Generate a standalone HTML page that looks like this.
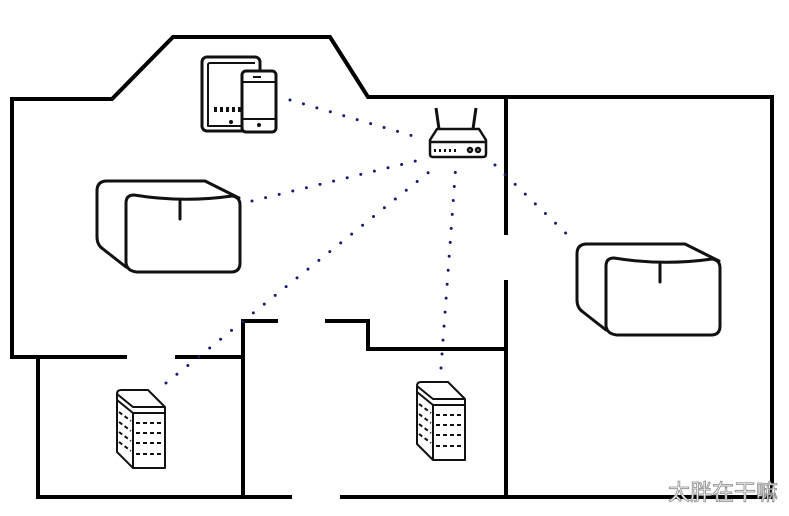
<!DOCTYPE html>
<html><head><meta charset="utf-8"><style>
html,body{margin:0;padding:0;background:#fff;}
svg{display:block;}
</style></head><body>
<svg width="789" height="516" viewBox="0 0 789 516" xmlns="http://www.w3.org/2000/svg">
<defs>
<g id="spk" fill="none" stroke="#111" stroke-width="3" stroke-linejoin="round" stroke-linecap="round">
  <path d="M29,86 L6,68 Q0,64 0,56 L0,10 Q0,0 10,0 L108,0 L142,17"/>
  <path d="M37,14 Q29,14 29,22 L29,82 Q30,90 40,91 L134,91 Q143,91 143,82 L143,24 Q143,16 135,15 Q86,22 37,14 Z"/>
  <path d="M83,20 L83,38"/>
</g>
<g id="tow" fill="none" stroke="#111" stroke-width="2" stroke-linejoin="round">
  <path d="M1,4 Q1,0 5,0 L32,0 L49,17 L49,78 L17,78 L1,62 Z"/>
  <path d="M1,4 L17,17 L49,17"/>
  <path d="M1,10 L17,23 L49,23"/>
  <path d="M17,23 L17,78"/>
  <g stroke-dasharray="4,3">
    <path d="M20,33 L49,33 M20,43 L49,43 M20,53 L49,53 M20,64 L49,64"/>
    <path d="M3,22 L15,31 M3,32 L15,41 M3,42 L15,51 M3,52 L15,61"/>
  </g>
</g>
</defs>
<!-- walls -->
<g fill="none" stroke="#000" stroke-width="4" stroke-linecap="square">
  <path d="M12,357 L12,99 L112,99 L173,37 L330,37 L368,97 L772,97 L772,497"/>
  <path d="M12,357 L125,357 M177,357 L243,357"/>
  <path d="M38,357 L38,497 L290,497 M342,497 L772,497"/>
  <path d="M243,497 L243,321 L276,321 M327,321 L368,321 L368,349 L506,349"/>
  <path d="M506,97 L506,233 M506,282 L506,497"/>
</g>
<!-- dotted links -->
<g fill="none" stroke="#1a1a6e" stroke-width="3" stroke-linecap="round" stroke-dasharray="0,14">
  <path d="M290,100 L420,138"/>
  <path d="M252,201 L428,158"/>
  <path d="M166,383 L434,168"/>
  <path d="M441,368 L456,163"/>
  <path d="M495,165 L575,242"/>
</g>
<!-- devices -->
<g fill="none" stroke="#111" stroke-width="3" stroke-linejoin="round">
  <rect x="202" y="57" width="58" height="74" rx="5"/>
  <path d="M242,126 L208,126 L208,65 Q208,63 210,63 L255,63" stroke-width="2"/>
  <rect x="242" y="71" width="34" height="61" rx="4" fill="#fff"/>
  <path d="M243,82 L275,82 M243,119 L275,119" stroke-width="2"/>
</g>
<g fill="#111">
  <rect x="214" y="107" width="3" height="5"/><rect x="220" y="107" width="3" height="5"/><rect x="226" y="107" width="3" height="5"/><rect x="232" y="107" width="3" height="5"/><rect x="238" y="107" width="3" height="5"/>
  <circle cx="231" cy="122" r="2"/><circle cx="259" cy="125" r="2"/>
  <rect x="253" y="76" width="8" height="2"/>
</g>
<!-- router -->
<g fill="none" stroke="#111" stroke-width="2.5" stroke-linejoin="round">
  <path d="M439,129 L436,108 M473,129 L476,108" stroke-width="3"/>
  <path d="M437,129 L479,129 L486,140 L486,154 Q486,157 483,157 L433,157 Q430,157 430,154 L430,140 Z"/>
  <path d="M431,142 L485,142"/>
  <circle cx="470" cy="150" r="2"/><circle cx="478" cy="150" r="2"/>
</g>
<g fill="#111"><rect x="434" y="149" width="2" height="3"/><rect x="439" y="149" width="2" height="3"/><rect x="444" y="149" width="2" height="3"/><rect x="449" y="149" width="2" height="3"/><rect x="454" y="149" width="2" height="3"/></g>
<use href="#spk" x="97" y="181"/>
<use href="#spk" x="577" y="244"/>
<use href="#tow" x="116" y="390"/>
<use href="#tow" x="416" y="382"/>
<text x="668" y="500" font-family="'Liberation Sans','Noto Sans CJK SC',sans-serif" font-size="22" fill="#fff" stroke="#888" stroke-width="0.8">太胖在干嘛</text>
</svg>
</body></html>
